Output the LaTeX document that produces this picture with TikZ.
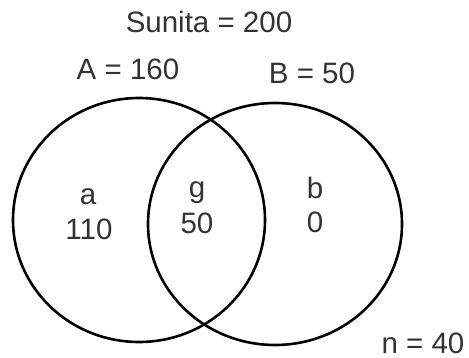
\documentclass[tikz,border=0pt]{standalone}
\usepackage{fontspec}
\setmainfont{Liberation Sans}
\usepackage{xcolor}
\usepackage{tikz}
\definecolor{ink}{HTML}{333333}
\tikzset{
  ring/.style={draw=black, line width=2.6pt},
  lbl/.style={font=\fontsize{29.5}{35}\selectfont, text=ink, inner sep=0pt, anchor=base},
}
\begin{document}
\begin{tikzpicture}[x=1pt, y=-1pt]
\useasboundingbox (0,0) rectangle (469,358);
\draw[ring] (139,220) ellipse [x radius=126pt, y radius=122pt];
\draw[ring] (275,224) ellipse [x radius=127pt, y radius=121pt];
\node[lbl] (total) at (209,33) {Sunita = 200};
\node[lbl] (setA) at (128,80) {A = 160};
\node[lbl] (setB) at (312,84) {B = 50};
\node[lbl] (a) at (88,205) {a};
\node[lbl] (aval) at (89,240) {110};
\node[lbl] (g) at (197,198) {g};
\node[lbl] (gval) at (197,234) {50};
\node[lbl] (b) at (315,199) {b};
\node[lbl] (bval) at (315,233) {0};
\node[lbl] (none) at (423,353) {n = 40};
\end{tikzpicture}
\end{document}
